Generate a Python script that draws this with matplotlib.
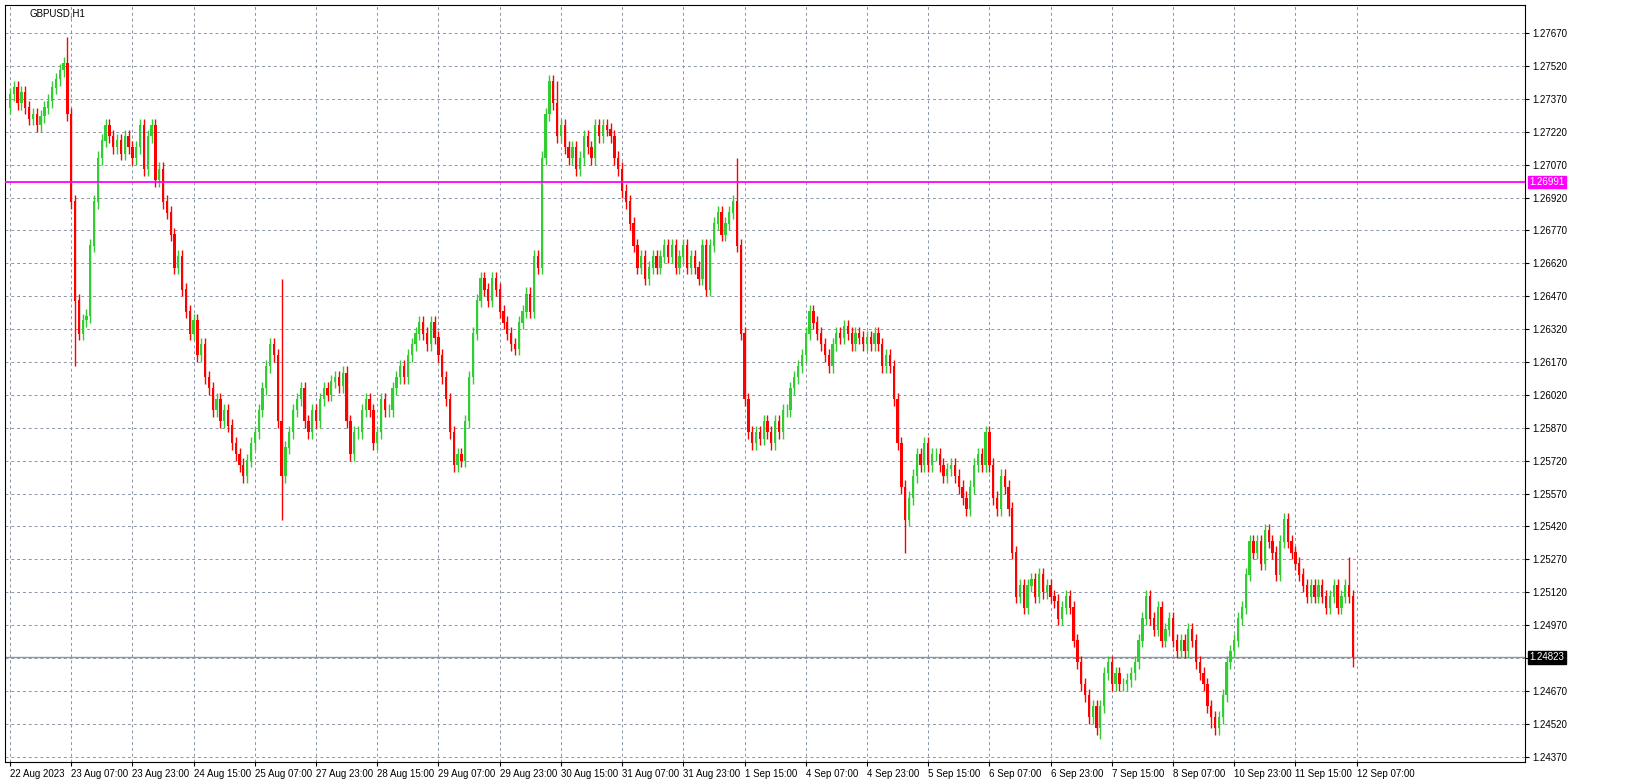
import matplotlib.pyplot as plt
import numpy as np

plt.rcParams['font.family'] = ['Liberation Sans', 'DejaVu Sans']

# hourly closes, in 1e-5 units (GBPUSD H1)
closes = [
    127390,127420,127350,127400,127330,127280,127300,127250,127290,127330,127360,127420,127460,127500,127530,127300,
    126900,126450,126300,126360,126380,126700,126900,127100,127180,127250,127200,127150,127180,127120,127200,127150,
    127100,127150,127250,127050,127200,127250,127000,127050,126900,126850,126750,126600,126650,126500,126400,126300,
    126360,126200,126250,126100,126050,125950,126000,125900,125950,125880,125800,125750,125700,125650,125720,125800,
    125850,125950,126050,126150,126250,126200,125900,125650,125780,125850,125950,126000,126050,125900,125850,125950,
    125900,126000,126050,126020,126080,126100,126060,126120,125900,125750,125850,125850,125950,126000,125950,125800,
    125850,126000,125950,125950,126050,126100,126150,126100,126200,126250,126300,126350,126300,126250,126350,126280,
    126200,126100,126000,125850,125700,125750,125720,125900,126100,126300,126450,126550,126500,126450,126550,126500,
    126400,126350,126300,126250,126230,126350,126400,126480,126400,126650,126600,127100,127300,127450,127350,127200,
    127250,127150,127100,127150,127050,127100,127200,127150,127100,127250,127200,127250,127230,127200,127100,127050,
    126950,126900,126800,126700,126600,126650,126550,126600,126650,126600,126650,126700,126650,126700,126600,126650,
    126700,126600,126650,126600,126550,126700,126500,126700,126800,126850,126750,126800,126850,126900,126700,126300,
    126000,125850,125800,125850,125820,125900,125850,125800,125900,125850,125950,125950,126050,126100,126150,126200,
    126300,126400,126350,126300,126250,126200,126150,126250,126300,126280,126330,126300,126250,126300,126280,126250,
    126280,126250,126300,126250,126150,126200,126150,126000,125800,125600,125450,125550,125650,125750,125700,125800,
    125700,125750,125750,125700,125650,125680,125700,125650,125600,125550,125500,125600,125700,125750,125700,125850,
    125700,125550,125500,125650,125600,125500,125300,125100,125150,125050,125150,125180,125100,125200,125120,125150,
    125100,125080,125000,125050,125100,125050,124900,124800,124700,124650,124550,124600,124500,124600,124750,124800,
    124700,124750,124700,124700,124720,124750,124800,124900,125000,125100,125000,124950,125050,124900,124950,125000,
    124900,124850,124900,124850,124950,124900,124800,124750,124700,124600,124550,124500,124550,124650,124800,124850,
    124900,125000,125050,125200,125350,125300,125350,125250,125400,125350,125300,125200,125350,125450,125350,125300,
    125250,125200,125150,125100,125150,125100,125150,125100,125050,125100,125150,125050,125100,125150,125100,124823,
]
first_open = 127330
# notable wick extremes: candle index -> price
spike_highs = {15: 127650, 71: 126550, 143: 127450, 190: 127100, 334: 125480, 350: 125280}
spike_lows = {17: 126150, 71: 125450, 234: 125300, 285: 124450, 314: 124500, 351: 124780}

x_labels = ["22 Aug 2023", "23 Aug 07:00", "23 Aug 23:00", "24 Aug 15:00", "25 Aug 07:00",
            "27 Aug 23:00", "28 Aug 15:00", "29 Aug 07:00", "29 Aug 23:00", "30 Aug 15:00",
            "31 Aug 07:00", "31 Aug 23:00", "1 Sep 15:00", "4 Sep 07:00", "4 Sep 23:00",
            "5 Sep 15:00", "6 Sep 07:00", "6 Sep 23:00", "7 Sep 15:00", "8 Sep 07:00",
            "10 Sep 23:00", "11 Sep 15:00", "12 Sep 07:00"]
y_ticks = [1.24370 + 0.0015 * k for k in range(23)]
magenta_level = 1.26991
bid_level = 1.24823

c = np.array(closes) / 1e5
o = np.concatenate([[first_open / 1e5], c[:-1]])
n = len(c)
idx = np.arange(n)
hi = np.maximum(o, c) + 0.0003
lo = np.minimum(o, c) - 0.0003
for k, v in spike_highs.items():
    hi[k] = max(hi[k], v / 1e5)
for k, v in spike_lows.items():
    lo[k] = min(lo[k], v / 1e5)

green = "#32CD32"
red = "#FF0000"
up = c >= o
cols = np.where(up, green, red)

fig = plt.figure(figsize=(16.44, 7.82), dpi=100)
ax = fig.add_axes([5 / 1644, 1 - 762 / 782, 1520 / 1644, 757 / 782])
ax.set_xlim(-1.3, 396)
ax.set_ylim(1.24346, 1.27798)

ax.vlines(idx, lo, hi, colors=cols, linewidth=1, zorder=3)
ax.bar(idx, np.abs(c - o) + 0.00002, bottom=np.minimum(o, c), width=0.6,
       color=cols, linewidth=0, zorder=4)

ax.axhline(magenta_level, color="#FF00FF", linewidth=1.3, zorder=5)
ax.axhline(bid_level, color="#8A96A0", linewidth=1, zorder=2)

ax.yaxis.tick_right()
ax.set_yticks(y_ticks)
ax.set_yticklabels([f"{v:.5f}" for v in y_ticks], fontsize=7)
ax.set_xticks(np.arange(len(x_labels)) * 16)
ax.set_xticklabels(x_labels, fontsize=7, ha="left")
ax.tick_params(length=3, direction="out", pad=2)
ax.grid(True, color="#8A96A6", linestyle=(0, (3, 3)), linewidth=0.7, zorder=0)
for s in ax.spines.values():
    s.set_color("black")

ax.text(5, 1.27798 - 0.00015, "GBPUSD,H1", fontsize=7, va="top", ha="left")

for lvl, bg in [(magenta_level, "#FF00FF"), (bid_level, "black")]:
    ax.annotate(f"{lvl:.5f}", xy=(1, lvl), xycoords=("axes fraction", "data"),
                xytext=(3, 0), textcoords="offset points", fontsize=7,
                color="white", va="center", ha="left",
                bbox=dict(boxstyle="square,pad=0.15", fc=bg, ec=bg), zorder=10,
                annotation_clip=False)

fig.savefig("out.png", dpi=100, facecolor="white")
